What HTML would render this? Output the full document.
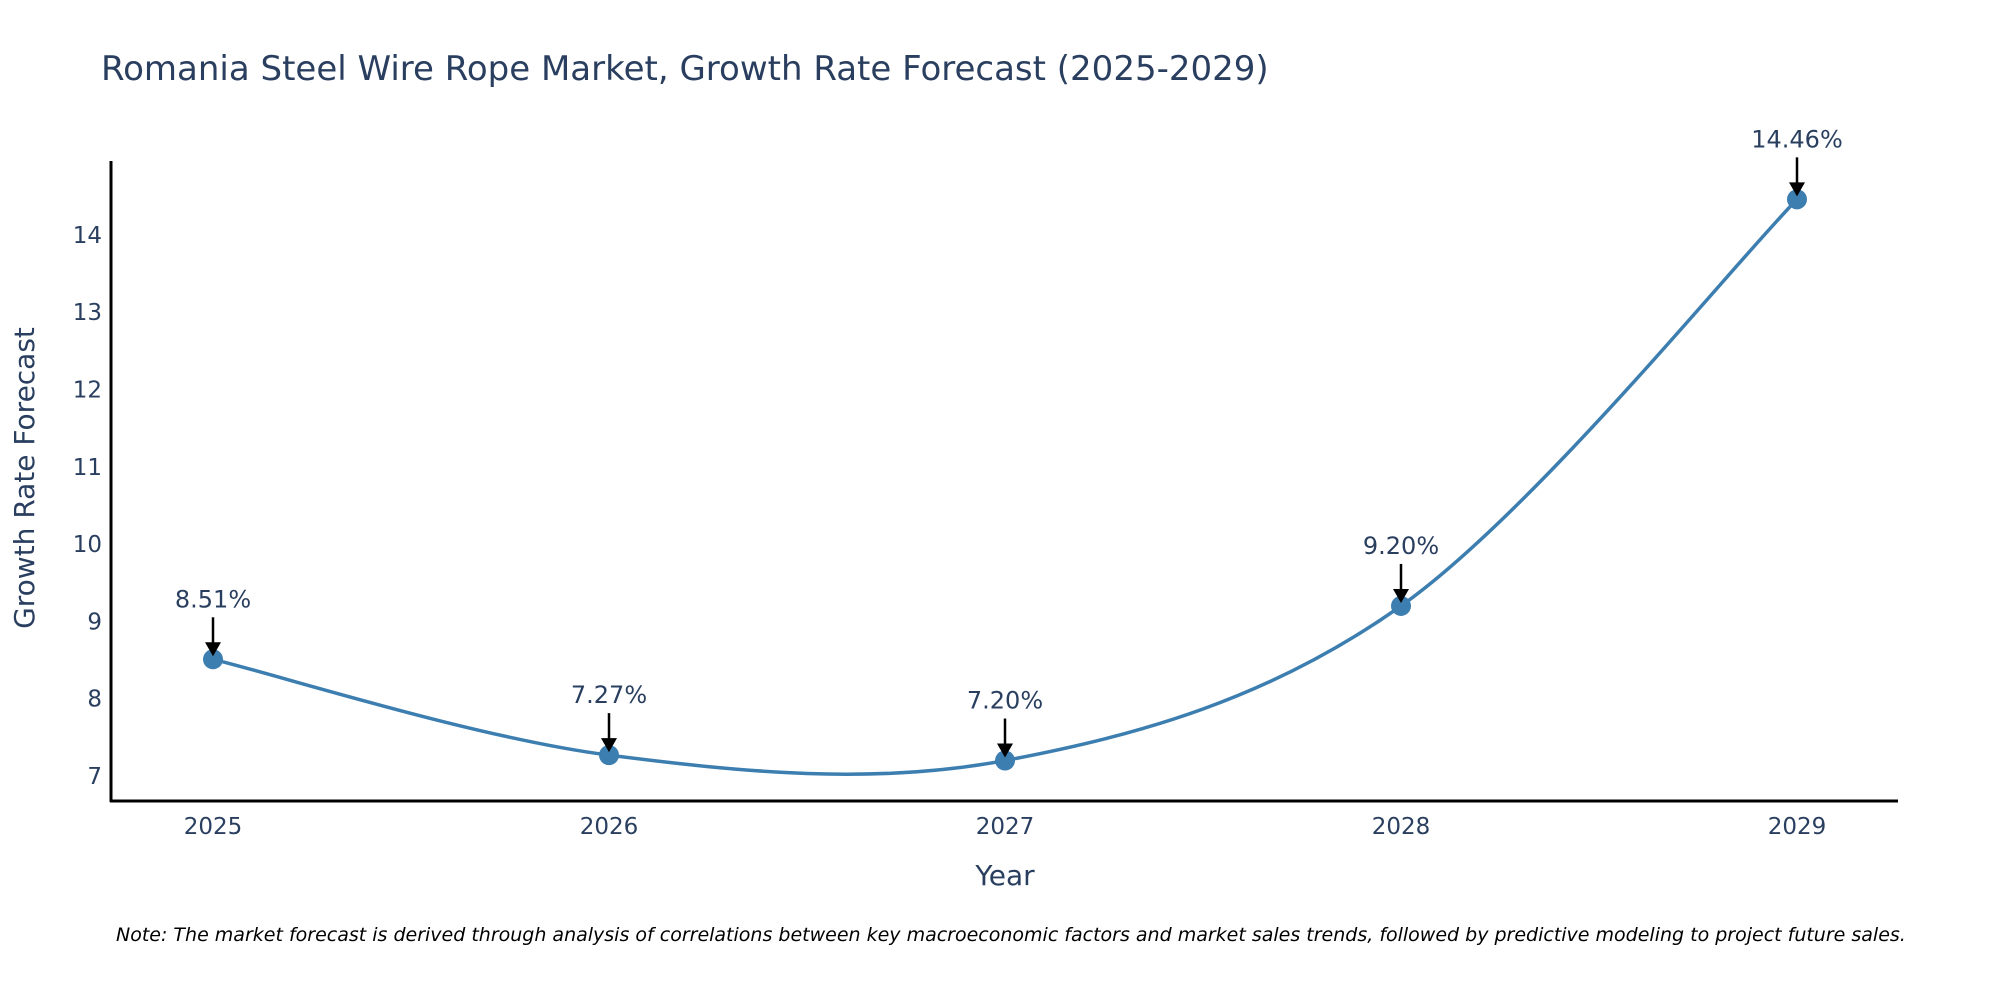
<!DOCTYPE html>
<html><head><meta charset="utf-8"><style>
body{margin:0;background:#fff}
svg{display:block;font-family:"DejaVu Sans","Liberation Sans",sans-serif}
</style></head><body>
<svg id="chart" width="2000" height="1000">
<text x="101" y="80" font-size="34" fill="#2a3f5f">Romania Steel Wire Rope Market, Growth Rate Forecast (2025-2029)</text>
<g id="yticks"></g>
<g id="xticks"></g>
<line x1="111" y1="161" x2="111" y2="802" stroke="#000" stroke-width="3"/>
<line x1="110" y1="801" x2="1898" y2="801" stroke="#000" stroke-width="3"/>
<text transform="translate(34,478) rotate(-90)" text-anchor="middle" font-size="28" fill="#2a3f5f">Growth Rate Forecast</text>
<text x="1005" y="885" text-anchor="middle" font-size="28" fill="#2a3f5f">Year</text>
<path id="line" fill="none" stroke="#3d7eb0" stroke-width="3.5"/>
<g id="points"></g>
<g id="annots"></g>
<text x="116" y="941" font-size="19" font-style="italic" fill="#000">Note: The market forecast is derived through analysis of correlations between key macroeconomic factors and market sales trends, followed by predictive modeling to project future sales.</text>
</svg>
<script>
const years = [2025, 2026, 2027, 2028, 2029];
const values = [8.51, 7.27, 7.20, 9.20, 14.46];
const labels = ["8.51%", "7.27%", "7.20%", "9.20%", "14.46%"];
const yTicks = [7, 8, 9, 10, 11, 12, 13, 14];

const NS = "http://www.w3.org/2000/svg";
function xs(v){ return 213 + (v - 2025) * 396; }
function ys(v){ return 776 - (v - 7) * 77.3; }
function mk(tag, attrs, parent){ const e = document.createElementNS(NS, tag); for (const k in attrs) e.setAttribute(k, attrs[k]); parent.appendChild(e); return e; }

const yg = document.getElementById('yticks');
yTicks.forEach(t => {
  const e = mk('text', {x: 102, y: ys(t) + 8, 'text-anchor': 'end', 'font-size': 23, fill: '#2a3f5f'}, yg);
  
  
  e.textContent = t;
});
const xg = document.getElementById('xticks');
years.forEach(y => {
  const e = mk('text', {x: xs(y), y: 834, 'text-anchor': 'middle', 'font-size': 23, fill: '#2a3f5f'}, xg);
  
  
  e.textContent = y;
});

const pts = years.map((y, i) => [xs(y), ys(values[i])]);
let d = `M${pts[0][0]},${pts[0][1]}`;
for (let i = 0; i < pts.length - 1; i++) {
  const p0 = pts[i - 1] || pts[i], p1 = pts[i], p2 = pts[i + 1], p3 = pts[i + 2] || pts[i + 1];
  const c1 = [p1[0] + (p2[0] - p0[0]) / 6, p1[1] + (p2[1] - p0[1]) / 6];
  const c2 = [p2[0] - (p3[0] - p1[0]) / 6, p2[1] - (p3[1] - p1[1]) / 6];
  d += ` C${c1[0]},${c1[1]} ${c2[0]},${c2[1]} ${p2[0]},${p2[1]}`;
}
document.getElementById('line').setAttribute('d', d);

const pg = document.getElementById('points');
const ag = document.getElementById('annots');
pts.forEach((p, i) => {
  const c = mk('circle', {cx: p[0], cy: p[1], r: 10, fill: '#3d7eb0'}, pg);
  
  
  const l = mk('line', {x1: p[0], y1: p[1] - 42, x2: p[0], y2: p[1] - 14, stroke: '#000', 'stroke-width': 2.5}, ag);
  
  
  const h = mk('polygon', {points: `${p[0]-8},${p[1]-17} ${p[0]+8},${p[1]-17} ${p[0]},${p[1]-3}`, fill: '#000'}, ag);
  
  
  const t = mk('text', {x: p[0], y: p[1] - 52, 'text-anchor': 'middle', 'font-size': 24, fill: '#2a3f5f'}, ag);
  
  
  t.textContent = labels[i];
});
</script>
</body></html>
